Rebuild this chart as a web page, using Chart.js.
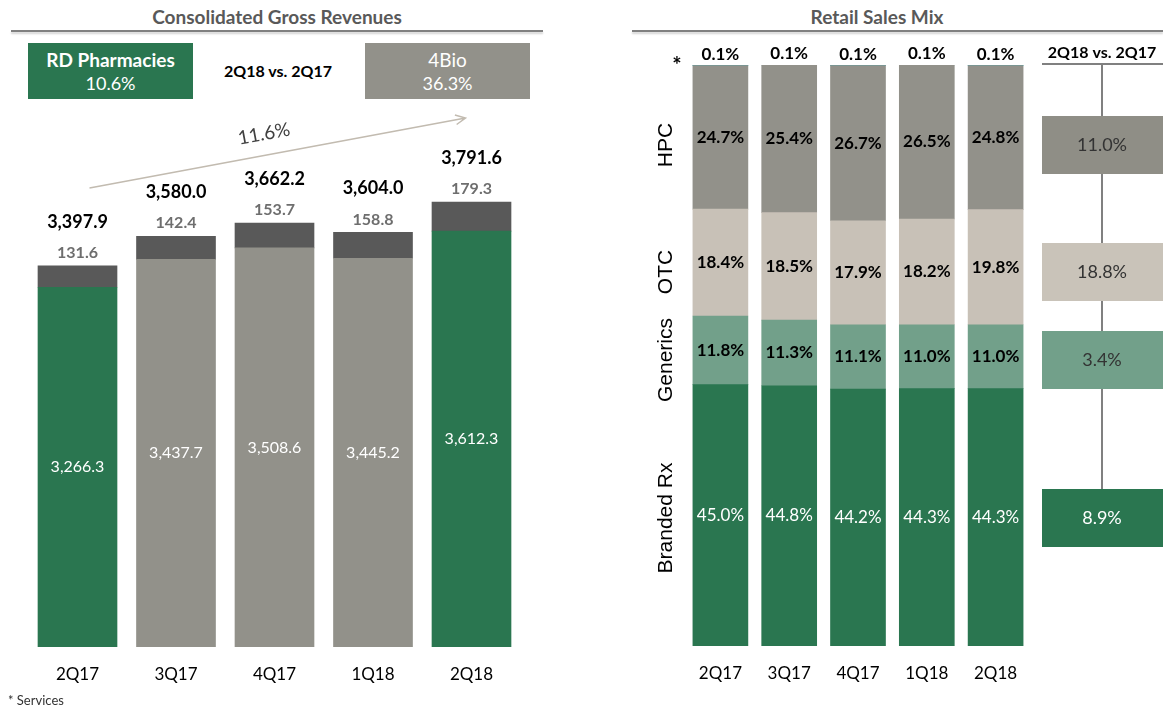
<!DOCTYPE html>
<html>
<head>
<meta charset="utf-8">
<script src="https://cdn.jsdelivr.net/npm/chart.js@4"></script>
<style>
  body { margin: 0; width: 1163px; height: 709px; overflow: hidden; background: #fff; font-family: Lato, sans-serif; }
  .abs { position: absolute; }
  .title { font-weight: bold; font-size: 19px; color: #595959; text-align: center; }
  .rule { height: 2px; background: #808080; box-shadow: 0 2px 2px rgba(0,0,0,0.18); }
  .box { color: #fff; text-align: center; line-height: 23px; padding-top: 5px; box-sizing: border-box; }
  .box b { font-size: 19px; }
  .box span { font-size: 18px; }
</style>
</head>
<body>
<div class="abs title" style="left:11px; top:5px; width:532px;">Consolidated Gross Revenues</div>
<div class="abs rule" style="left:11px; top:30px; width:532px;"></div>
<div class="abs title" style="left:632px; top:5px; width:490px;">Retail Sales Mix</div>
<div class="abs rule" style="left:632px; top:30px; width:531px;"></div>

<div class="abs box" style="left:28px; top:43px; width:165px; height:56px; background:#2a7650;"><b>RD Pharmacies</b><br><span>10.6%</span></div>
<div class="abs" style="left:218px; top:61px; width:120px; text-align:center; font-weight:bold; font-size:16px;">2Q18 vs. 2Q17</div>
<div class="abs box" style="left:365px; top:43px; width:165px; height:56px; background:#92918a;"><b style="font-weight:normal">4Bio</b><br><span>36.3%</span></div>

<canvas id="revChart" class="abs" style="left:0; top:0;" width="540" height="709"></canvas>
<canvas id="mixChart" class="abs" style="left:600px; top:0;" width="563" height="709"></canvas>

<div class="abs" style="left:8px; top:692px; font-size:13px; color:#333;">* Services</div>

<script>
// quarters shown on both charts
const quarters = ['2Q17', '3Q17', '4Q17', '1Q18', '2Q18'];

// consolidated gross revenues (R$ million)
const baseRevenue = [3266.3, 3437.7, 3508.6, 3445.2, 3612.3];
const servicesRevenue = [131.6, 142.4, 153.7, 158.8, 179.3];
const totalRevenue = [3397.9, 3580.0, 3662.2, 3604.0, 3791.6];
const growthTotal = '11.6%';

// retail sales mix (%)
const brandedRx = [45.0, 44.8, 44.2, 44.3, 44.3];
const generics = [11.8, 11.3, 11.1, 11.0, 11.0];
const otc = [18.4, 18.5, 17.9, 18.2, 19.8];
const hpc = [24.7, 25.4, 26.7, 26.5, 24.8];
const services = [0.1, 0.1, 0.1, 0.1, 0.1];
const mixGrowth = ['8.9%', '3.4%', '18.8%', '11.0%'];
const mixNames = ['Branded Rx', 'Generics', 'OTC', 'HPC'];

const GREEN = '#2a7650';
const GREY = '#92918a';
const fmt = v => v.toLocaleString('en-US', { minimumFractionDigits: 1, maximumFractionDigits: 1 });

// bars for 2Q17 and 2Q18 are green, the rest grey
const baseColors = quarters.map((q, i) => (i === 0 || i === quarters.length - 1) ? GREEN : GREY);

const revLabels = {
    id: 'revLabels',
    afterDatasetsDraw(chart) {
        const ctx = chart.ctx;
        const base = chart.getDatasetMeta(0).data;
        const serv = chart.getDatasetMeta(1).data;
        ctx.save();
        ctx.textAlign = 'center';
        ctx.textBaseline = 'middle';
        base.forEach((bar, i) => {
            ctx.fillStyle = '#fff';
            ctx.font = '16px Lato';
            ctx.fillText(fmt(baseRevenue[i]), bar.x, (bar.y + chart.chartArea.bottom) / 2);
            const top = serv[i].y;
            ctx.fillStyle = '#6e6e6e';
            ctx.font = 'bold 16px Lato';
            ctx.fillText(fmt(servicesRevenue[i]), bar.x, top - 13);
            ctx.fillStyle = '#000';
            ctx.font = 'bold 18px Lato';
            ctx.fillText(fmt(totalRevenue[i]), bar.x, top - 44);
        });

        // growth arrow from first to last quarter
        const x0 = base[0].x + 12, y0 = serv[0].y - 78;
        const x1 = base[base.length - 1].x - 6, y1 = serv[serv.length - 1].y - 84;
        const ang = Math.atan2(y1 - y0, x1 - x0);
        ctx.strokeStyle = '#c2bbb0';
        ctx.lineWidth = 1.5;
        ctx.beginPath();
        ctx.moveTo(x0, y0);
        ctx.lineTo(x1, y1);
        ctx.moveTo(x1 - 11 * Math.cos(ang - 0.45), y1 - 11 * Math.sin(ang - 0.45));
        ctx.lineTo(x1, y1);
        ctx.lineTo(x1 - 11 * Math.cos(ang + 0.45), y1 - 11 * Math.sin(ang + 0.45));
        ctx.stroke();
        ctx.translate(264, 134);
        ctx.rotate(ang);
        ctx.fillStyle = '#404040';
        ctx.font = '19px Lato';
        ctx.fillText(growthTotal, 0, 0);
        ctx.restore();
    }
};

new Chart(document.getElementById('revChart'), {
    type: 'bar',
    data: {
        labels: quarters,
        datasets: [
            { label: 'Retail', data: baseRevenue, backgroundColor: baseColors, barThickness: 79 },
            { label: 'Services', data: servicesRevenue, backgroundColor: '#595959', barThickness: 79 }
        ]
    },
    options: {
        responsive: false,
        animation: false,
        devicePixelRatio: 1,
        layout: { padding: { left: 28.25, right: 19.25, top: 87, bottom: 0 } },
        plugins: { legend: { display: false }, tooltip: { enabled: false } },
        scales: {
            x: {
                stacked: true,
                grid: { display: false, drawTicks: false },
                border: { display: false },
                ticks: { color: '#000', font: { family: 'Lato', size: 17 }, padding: 17 },
                afterFit: s => { s.height = 62; }
            },
            y: { stacked: true, display: false, min: 1050, max: 4500 }
        }
    },
    plugins: [revLabels]
});

// y centres of the comparison boxes and side labels, bottom segment first
const BOX_Y = [518, 360, 272, 145];

const mixLabels = {
    id: 'mixLabels',
    afterDatasetsDraw(chart) {
        const ctx = chart.ctx;
        const series = [brandedRx, generics, otc, hpc];
        ctx.save();
        ctx.textAlign = 'center';
        ctx.textBaseline = 'middle';
        series.forEach((vals, d) => {
            chart.getDatasetMeta(d).data.forEach((bar, i) => {
                ctx.fillStyle = d === 0 ? '#fff' : '#000';
                ctx.font = d === 0 ? '17px Lato' : 'bold 17px Lato';
                ctx.fillText(vals[i].toFixed(1) + '%', bar.x, (bar.y + bar.base) / 2);
            });
        });
        chart.getDatasetMeta(4).data.forEach((bar, i) => {
            ctx.fillStyle = '#000';
            ctx.font = 'bold 17px Lato';
            ctx.fillText(services[i].toFixed(1) + '%', bar.x, bar.y - 9);
        });
        ctx.font = 'bold 22px Lato';
        ctx.fillText('*', 77, 66);

        // rotated category names on the left
        ctx.font = '21px "Liberation Sans"';
        mixNames.forEach((name, d) => {
            ctx.save();
            ctx.translate(66, BOX_Y[d]);
            ctx.rotate(-Math.PI / 2);
            ctx.fillText(name, 0, 0);
            ctx.restore();
        });

        // year-on-year comparison column
        const cx = 502;
        ctx.font = 'bold 16px Lato';
        ctx.fillText('2Q18 vs. 2Q17', cx, 53);
        ctx.fillStyle = '#808080';
        ctx.fillRect(442, 63, 121, 2);
        ctx.fillRect(cx - 1, 65, 2, BOX_Y[0] - 29 - 65);
        const boxColors = [GREEN, '#72a08a', '#c9c3b9', '#8f8e86'];
        mixGrowth.forEach((txt, d) => {
            ctx.fillStyle = boxColors[d];
            ctx.fillRect(442, BOX_Y[d] - 29, 121, 58);
            ctx.fillStyle = d === 0 ? '#fff' : '#333';
            ctx.font = '18px Lato';
            ctx.fillText(txt, cx, BOX_Y[d]);
        });
        ctx.restore();
    }
};

new Chart(document.getElementById('mixChart'), {
    type: 'bar',
    data: {
        labels: quarters,
        datasets: [
            { label: 'Branded Rx', data: brandedRx, backgroundColor: GREEN, barThickness: 55 },
            { label: 'Generics', data: generics, backgroundColor: '#72a08a', barThickness: 55 },
            { label: 'OTC', data: otc, backgroundColor: '#c8c1b7', barThickness: 55 },
            { label: 'HPC', data: hpc, backgroundColor: GREY, barThickness: 55 },
            { label: 'Services', data: services, backgroundColor: '#35a2ad', barThickness: 55, minBarLength: 2 }
        ]
    },
    options: {
        responsive: false,
        animation: false,
        devicePixelRatio: 1,
        layout: { padding: { left: 86, right: 133, top: 65, bottom: 0 } },
        plugins: { legend: { display: false }, tooltip: { enabled: false } },
        scales: {
            x: {
                stacked: true,
                grid: { display: false, drawTicks: false },
                border: { display: false },
                ticks: { color: '#000', font: { family: 'Lato', size: 17 }, padding: 17 },
                afterFit: s => { s.height = 63; }
            },
            y: { stacked: true, display: false, min: 0, max: 100 }
        }
    },
    plugins: [mixLabels]
});
</script>
</body>
</html>
